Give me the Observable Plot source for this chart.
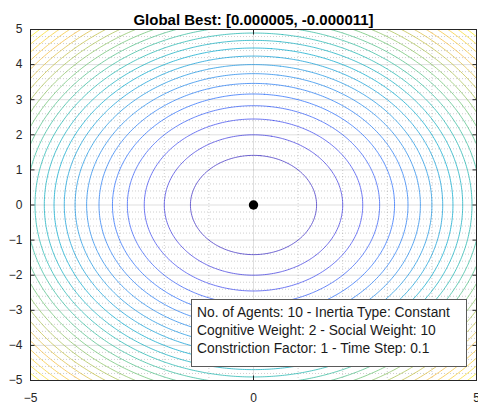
<!DOCTYPE html>
<html>
<head>
<meta charset="utf-8">
<script src="https://cdn.jsdelivr.net/npm/d3@7"></script>
<script src="https://cdn.jsdelivr.net/npm/@observablehq/plot@0.6"></script>
<style>
  body { margin: 0; background: #fff; }
  #wrap { position: relative; width: 478px; height: 405px; font-family: "Liberation Sans", Arial, sans-serif; }
  #info {
    position: absolute; left: 191px; top: 299px; width: 274px; height: 62px;
    background: #fff; border: 1px solid #5a5a5a; box-sizing: content-box;
    font-size: 13.8px; color: #1a1a1a; line-height: 18px; padding-top: 4px;
  }
  #info div { padding-left: 5px; white-space: nowrap; }
</style>
</head>
<body>
<div id="wrap"><div id="info"></div></div>
<script>
// Axis ticks
const X_TICKS = [-5, 0, 5];
const Y_TICKS = [-5, -4, -3, -2, -1, 0, 1, 2, 3, 4, 5];
const X_MINOR = [-4, -3, -2, -1, 1, 2, 3, 4];

// Contour levels of the objective surface
const LEVELS = [2, 4, 6, 8, 10, 12, 14, 16, 18, 20, 22, 24, 26, 28, 30, 32, 34, 36, 38, 40, 42, 44, 46, 48];
const COLOR_MAX = 50;

// Best position found by the swarm
const BEST_X = [0.000005];
const BEST_Y = [-0.000011];

const TITLE = "Global Best: [0.000005, -0.000011]";
const INFO_LINES = [
  "No. of Agents: 10 - Inertia Type: Constant",
  "Cognitive Weight: 2 - Social Weight: 10",
  "Constriction Factor: 1 - Time Step: 0.1"
];

// Parula colormap stops
const PARULA = ["#3e26a8", "#4746eb", "#2c6ffa", "#2190e6", "#08a8cc", "#27b8a8",
                "#6cc273", "#b7bf48", "#f5ba3d", "#f8d22c", "#f9fb14"];

// Sphere objective f(x, y) = x² + y²
const sphere = (x, y) => x * x + y * y;

// Sample the surface on a grid wider than the view so every level closes,
// then trace the iso-lines with d3.contours (clipped to the frame later).
const G_LO = -8, G_HI = 8, G_N = 321;
const gStep = (G_HI - G_LO) / (G_N - 1);
const grid = new Float64Array(G_N * G_N);
for (let j = 0; j < G_N; ++j)
  for (let i = 0; i < G_N; ++i)
    grid[j * G_N + i] = sphere(G_LO + i * gStep, G_LO + j * gStep);

const isoLines = [];
d3.contours().size([G_N, G_N]).thresholds(LEVELS)(grid).forEach(c => {
  c.coordinates.forEach((poly, pi) => poly.forEach((ring, ri) => {
    const id = `${c.value}-${pi}-${ri}`;
    ring.forEach(([cx, cy]) => isoLines.push({
      level: c.value, ring: id,
      x: G_LO + (cx - 0.5) * gStep,
      y: G_LO + (cy - 0.5) * gStep
    }));
  }));
});

const yMinor = d3.range(-50, 51, 2).map(v => v / 10).filter(v => !Number.isInteger(v));
const best = BEST_X.map((x, i) => ({x, y: BEST_Y[i]}));
const ink = "#262626";

const chart = Plot.plot({
  width: 478,
  height: 405,
  marginLeft: 30,
  marginRight: 2,
  marginTop: 29,
  marginBottom: 25,
  style: {fontFamily: "'Liberation Sans', Arial, sans-serif", background: "#fff"},
  x: {domain: [-5, 5]},
  y: {domain: [-5, 5]},
  color: {
    type: "linear",
    domain: PARULA.map((_, i) => i * COLOR_MAX / (PARULA.length - 1)),
    range: PARULA
  },
  marks: [
    // minor grid (dotted)
    Plot.gridX(X_MINOR, {stroke: ink, strokeOpacity: 0.22, strokeDasharray: "1,2"}),
    Plot.gridY(yMinor, {stroke: ink, strokeOpacity: 0.22, strokeDasharray: "1,2"}),
    // major grid
    Plot.gridX(X_TICKS, {stroke: ink, strokeOpacity: 0.15}),
    Plot.gridY(Y_TICKS, {stroke: ink, strokeOpacity: 0.15}),
    // contour lines
    Plot.line(isoLines, {x: "x", y: "y", z: "ring", stroke: "level", strokeWidth: 0.9, strokeOpacity: 0.85, clip: true}),
    Plot.dot(best, {x: "x", y: "y", r: 4.7, fill: "black", stroke: "none"}),
    Plot.frame({stroke: ink, strokeWidth: 1}),
    Plot.axisX(X_TICKS, {tickSize: -4.5, tickPadding: 17, fontSize: 12, fill: ink, stroke: ink, label: null}),
    Plot.axisY(Y_TICKS, {tickSize: -4.5, tickPadding: 12.5, fontSize: 12, fill: ink, stroke: ink, label: null}),
    Plot.axisX(X_TICKS, {anchor: "top", tickSize: -4.5, tickFormat: () => "", stroke: ink, label: null}),
    Plot.axisY(Y_TICKS, {anchor: "right", tickSize: -4.5, tickFormat: () => "", stroke: ink, label: null}),
    Plot.text([TITLE], {text: d => d, frameAnchor: "top", dy: -15, fontSize: 15, fontWeight: "bold", fill: "#000"})
  ]
});

const wrap = document.getElementById("wrap");
wrap.insertBefore(chart, wrap.firstChild);
d3.select("#info").selectAll("div").data(INFO_LINES).join("div").text(d => d);
</script>
</body>
</html>
